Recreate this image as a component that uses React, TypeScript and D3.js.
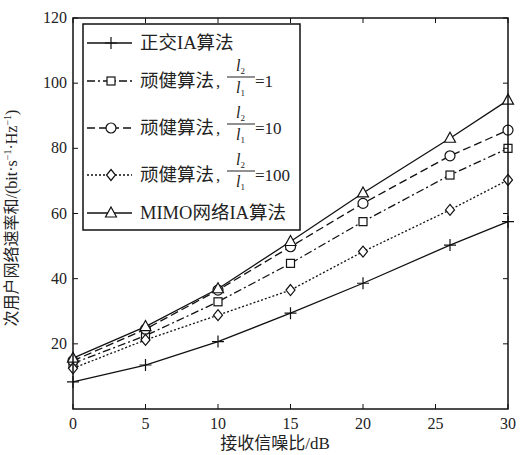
import React, { useRef, useEffect } from 'react';
import * as d3 from 'd3';

const snr = [0, 5, 10, 15, 20, 26, 30];
const orthIA = [8.3, 13.5, 20.7, 29.4, 38.6, 50.3, 57.5];
const robust1 = [14.0, 22.5, 32.9, 44.7, 57.5, 71.8, 80.0];
const robust10 = [14.8, 24.5, 36.5, 49.8, 63.1, 77.7, 85.6];
const robust100 = [12.5, 21.2, 28.8, 36.5, 48.3, 61.1, 70.3];
const mimoIA = [15.6, 25.3, 36.9, 51.4, 66.3, 83.1, 94.8];

const xTicks = [0, 5, 10, 15, 20, 25, 30];
const yTicks = [20, 40, 60, 80, 100, 120];

const FONT = "'Liberation Serif', 'Noto Sans CJK SC', serif";

type Series = { name: string; ratio?: string; values: number[]; dash: string; marker: string };

const series: Series[] = [
  { name: '正交IA算法', values: orthIA, dash: '', marker: 'plus' },
  { name: '顽健算法,', ratio: '=1', values: robust1, dash: '8,3,2,3', marker: 'square' },
  { name: '顽健算法,', ratio: '=10', values: robust10, dash: '8,4', marker: 'circle' },
  { name: '顽健算法,', ratio: '=100', values: robust100, dash: '2,2', marker: 'diamond' },
  { name: 'MIMO网络IA算法', values: mimoIA, dash: '', marker: 'triangle' },
];

const W = 529;
const H = 455;
const margin = { left: 73, right: 21, top: 18, bottom: 46 };

function drawMarker(g: any, kind: string, x: number, y: number) {
  const common = (sel: any) => sel.attr('fill', 'none').attr('stroke', '#111').attr('stroke-width', 1.2);
  if (kind === 'plus') {
    common(g.append('path').attr('d', `M${x - 6},${y}H${x + 6}M${x},${y - 6}V${y + 6}`));
  } else if (kind === 'square') {
    common(g.append('rect').attr('x', x - 4).attr('y', y - 4).attr('width', 8).attr('height', 8)).attr('fill', '#fff');
  } else if (kind === 'circle') {
    common(g.append('circle').attr('cx', x).attr('cy', y).attr('r', 5)).attr('fill', '#fff');
  } else if (kind === 'diamond') {
    common(g.append('path').attr('d', `M${x},${y - 5.5}L${x + 4.5},${y}L${x},${y + 5.5}L${x - 4.5},${y}Z`)).attr('fill', '#fff');
  } else if (kind === 'triangle') {
    common(g.append('path').attr('d', `M${x},${y - 6}L${x + 5.5},${y + 4}L${x - 5.5},${y + 4}Z`)).attr('fill', '#fff');
  }
}

const App = () => {
  const ref = useRef<SVGSVGElement | null>(null);

  useEffect(() => {
    if (!ref.current) return;
    const svg = d3.select(ref.current);
    svg.selectAll('*').remove();

    const x = d3.scaleLinear().domain([0, 30]).range([margin.left, W - margin.right]);
    const y = d3.scaleLinear().domain([0, 120]).range([H - margin.bottom, margin.top]);
    const x0 = x(0), x1 = x(30), y0 = y(0), y1 = y(120);

    svg.append('rect').attr('width', W).attr('height', H).attr('fill', '#fff');

    // series lines
    const line = d3.line<number>().x((_, i) => x(snr[i])).y(d => y(d));
    series.forEach(s => {
      svg.append('path')
        .attr('d', line(s.values))
        .attr('fill', 'none')
        .attr('stroke', '#111')
        .attr('stroke-width', 1.3)
        .attr('stroke-dasharray', s.dash || null);
    });
    series.forEach(s => {
      const g = svg.append('g');
      s.values.forEach((v, i) => drawMarker(g, s.marker, x(snr[i]), y(v)));
    });

    // axes box and ticks
    svg.append('rect')
      .attr('x', x0).attr('y', y1).attr('width', x1 - x0).attr('height', y0 - y1)
      .attr('fill', 'none').attr('stroke', '#111').attr('stroke-width', 1.5);

    xTicks.forEach(t => {
      svg.append('path').attr('d', `M${x(t)},${y0}V${y0 - 5}M${x(t)},${y1}V${y1 + 5}`).attr('stroke', '#111');
      svg.append('text').attr('x', x(t)).attr('y', y0 + 20)
        .attr('text-anchor', 'middle').attr('font-size', 16).attr('font-family', FONT).attr('fill', '#222')
        .text(t);
    });
    yTicks.forEach(t => {
      svg.append('path').attr('d', `M${x0},${y(t)}H${x0 + 5}M${x1},${y(t)}H${x1 - 5}`).attr('stroke', '#111');
      svg.append('text').attr('x', x0 - 6).attr('y', y(t) + 5)
        .attr('text-anchor', 'end').attr('font-size', 16).attr('font-family', FONT).attr('fill', '#222')
        .text(t);
    });

    svg.append('text').attr('x', 275).attr('y', H - 6)
      .attr('text-anchor', 'middle').attr('font-size', 17).attr('font-family', FONT).attr('fill', '#222')
      .text('接收信噪比/dB');

    const yl = svg.append('text')
      .attr('transform', `translate(17,218) rotate(-90)`)
      .attr('text-anchor', 'middle').attr('font-size', 16).attr('font-family', FONT).attr('fill', '#222');
    yl.append('tspan').text('次用户网络速率和/(bit·s');
    yl.append('tspan').attr('dy', -6).attr('font-size', 10).text('−1');
    yl.append('tspan').attr('dy', 6).text('·Hz');
    yl.append('tspan').attr('dy', -6).attr('font-size', 10).text('−1');
    yl.append('tspan').attr('dy', 6).text(')');

    // legend
    const lg = svg.append('g');
    lg.append('rect').attr('x', 83).attr('y', 24).attr('width', 217).attr('height', 206)
      .attr('fill', '#fff').attr('stroke', '#111').attr('stroke-width', 1.5);
    const rows = [43, 81, 128, 175, 213];
    series.forEach((s, i) => {
      const ry = rows[i];
      lg.append('path').attr('d', `M87,${ry}H132`).attr('fill', 'none').attr('stroke', '#111')
        .attr('stroke-width', 1.3).attr('stroke-dasharray', s.dash || null);
      drawMarker(lg, s.marker, 111, ry);
      lg.append('text').attr('x', 140).attr('y', ry + 6)
        .attr('font-size', 18.5).attr('font-family', FONT).attr('fill', '#222')
        .text(s.ratio ? '顽健算法' : s.name);
      if (s.ratio) {
        lg.append('text').attr('x', 216).attr('y', ry + 6)
          .attr('font-size', 17).attr('font-family', FONT).attr('fill', '#222').text(',');
        const fx = 227;
        const by = ry - 4;
        lg.append('path').attr('d', `M${fx},${by}H${fx + 28}`).attr('stroke', '#222').attr('stroke-width', 1);
        const num = lg.append('text').attr('x', fx + 9).attr('y', by - 6)
          .attr('font-size', 16).attr('font-family', FONT).attr('font-style', 'italic').attr('fill', '#222');
        num.append('tspan').text('l');
        num.append('tspan').attr('dy', 3).attr('font-size', 9).attr('font-style', 'normal').text('2');
        const den = lg.append('text').attr('x', fx + 9).attr('y', by + 16)
          .attr('font-size', 16).attr('font-family', FONT).attr('font-style', 'italic').attr('fill', '#222');
        den.append('tspan').text('l');
        den.append('tspan').attr('dy', 3).attr('font-size', 9).attr('font-style', 'normal').text('1');
        lg.append('text').attr('x', fx + 28).attr('y', ry + 6)
          .attr('font-size', 17).attr('font-family', FONT).attr('fill', '#222')
          .text(s.ratio);
      }
    });
  }, []);

  return (
    <svg ref={ref} width={W} height={H} style={{ position: 'absolute', left: 0, top: 0 }} />
  );
};

export default App;
